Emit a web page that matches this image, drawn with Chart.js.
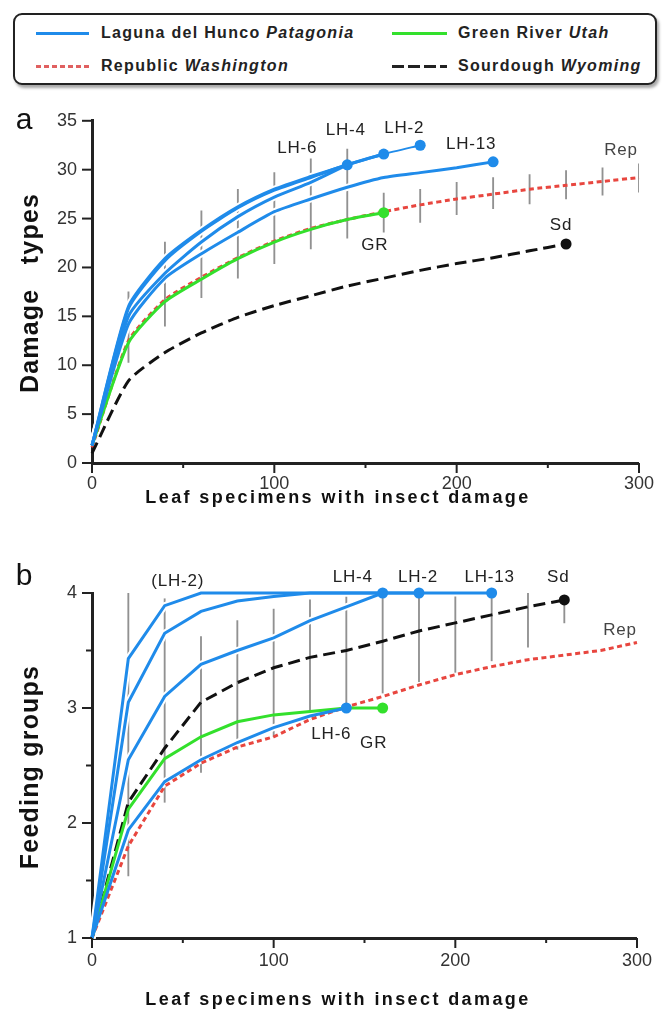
<!DOCTYPE html>
<html><head><meta charset="utf-8">
<script src="https://cdn.jsdelivr.net/npm/chart.js@4.4.1/dist/chart.umd.min.js"></script>
<style>
html,body{margin:0;padding:0;background:#fff;}
body{width:664px;height:1011px;position:relative;overflow:hidden;font-family:"Liberation Sans",Arial,sans-serif;}
#legend{position:absolute;left:13px;top:13px;width:640px;height:68px;border:2px solid #222;border-radius:9px;box-shadow:2px 3px 3px rgba(0,0,0,0.35);background:#fff;}
.item{position:absolute;font-weight:bold;font-size:16px;letter-spacing:1.3px;color:#222;white-space:nowrap;line-height:20px;}
.swatch{position:absolute;height:3px;}
canvas{position:absolute;left:0;}
</style></head><body>
<div id="legend"></div>
<canvas id="ca" width="664" height="435" style="top:95px"></canvas>
<canvas id="cb" width="664" height="451" style="top:560px"></canvas>
<script>
// ---------- data ----------
const xsAll = [0,20,40,60,80,100,120,140,160,180,200,220,240,260,280,300];

// panel a : damage types
const aLH2  = [1.8,16.0,20.9,23.8,26.2,28.0,29.3,30.5,31.6,32.5];
const aLH4  = [1.8,15.8,20.7,23.7,26.1,27.9,29.2,30.5,31.6];
const aLH6  = [1.8,15.0,19.4,22.6,25.2,27.2,28.7,30.5];
const aLH13 = [1.8,14.2,18.9,21.4,23.6,25.7,27.0,28.2,29.2,29.7,30.2,30.8];
const aGR   = [1.8,12.3,16.5,18.8,20.9,22.6,23.9,24.9,25.6];
const aRep  = [1.6,12.5,16.7,19.0,21.0,22.7,24.0,24.9,25.7,26.4,27.0,27.5,28.0,28.4,28.8,29.2];
const aSd   = [1.0,8.4,11.3,13.3,14.9,16.1,17.1,18.1,18.9,19.7,20.4,21.0,21.7,22.4];
const aBarX    = [20,40,60,80,100,120,140,160,180,200,220,240,260,280,300];
const aBarLow  = [10.3,14.0,16.9,18.9,20.4,21.9,23.0,23.6,24.6,25.4,26.0,26.5,27.0,27.4,27.7];
const aBarHigh = [17.5,22.6,25.8,28.0,29.7,31.1,32.1,27.6,28.0,28.7,29.2,29.5,29.9,30.2,30.6];

// panel b : feeding groups
const bLH2  = [1.0,3.43,3.89,4.0,4.0,4.0,4.0,4.0,4.0,4.0];
const bLH13 = [1.0,3.05,3.65,3.84,3.93,3.97,4.0,4.0,4.0,4.0,4.0,4.0];
const bLH4  = [1.0,2.55,3.10,3.38,3.50,3.61,3.76,3.88,4.0];
const bLH6  = [1.0,1.94,2.36,2.55,2.70,2.83,2.93,3.0];
const bGR   = [1.0,2.12,2.56,2.75,2.88,2.94,2.97,3.0,3.0];
const bRep  = [1.0,1.80,2.32,2.52,2.66,2.75,2.90,3.01,3.10,3.20,3.29,3.36,3.42,3.46,3.50,3.57];
const bSd   = [1.0,2.18,2.65,3.05,3.22,3.35,3.44,3.50,3.58,3.67,3.74,3.81,3.88,3.94];
const bBarX    = [20,40,60,80,100,120,140,160,180,200,220,240,260];
const bBarLow  = [1.54,2.18,2.44,2.64,2.75,2.90,3.00,3.13,3.23,3.31,3.41,3.53,3.74];
const bBarHigh = [4.0,3.95,3.62,3.76,3.86,3.94,4.0,4.0,4.0,4.0,4.0,4.0,3.94];

const xTickValues = [0,50,100,150,200,250,300];

// legend
const legendNames = ['Laguna del Hunco ','Green River ','Republic ','Sourdough '];
const legendPlaces = ['Patagonia','Utah','Washington','Wyoming'];

// ---------- styles ----------
const BLUE = '#1f8bea', GREEN = '#33e02c', RED = '#e8463f', BLACK = '#111111', GRAY = '#919191';
const FONT = '"Liberation Sans", Arial, sans-serif';

// legend build
(function(){
  const lg = document.getElementById('legend');
  const sw = [
    {l:21,t:16.5,w:53,bg:BLUE},
    {l:377,t:16.5,w:55,bg:GREEN},
    {l:21,t:49.5,w:53,bg:'repeating-linear-gradient(to right,#e06060 0 5px,transparent 5px 8px)'},
    {l:377,t:49.5,w:55,bg:'repeating-linear-gradient(to right,#222 0 12px,transparent 12px 16px)'}
  ];
  const tx = [{l:86,t:8},{l:443,t:8},{l:86,t:41},{l:443,t:41}];
  for(let i=0;i<4;i++){
    const s=document.createElement('div'); s.className='swatch';
    s.style.left=sw[i].l+'px'; s.style.top=sw[i].t+'px'; s.style.width=sw[i].w+'px'; s.style.background=sw[i].bg;
    lg.appendChild(s);
    const t=document.createElement('div'); t.className='item';
    t.style.left=tx[i].l+'px'; t.style.top=tx[i].t+'px';
    t.appendChild(document.createTextNode(legendNames[i]));
    const it=document.createElement('i'); it.textContent=legendPlaces[i]; t.appendChild(it);
    lg.appendChild(t);
  }
})();

function pts(vals){ return vals.map((v,i)=>({x:xsAll[i], y:v})); }
function lineDS(label, vals, color, order, extra){
  const n = vals.length;
  return Object.assign({
    type:'line', label, data:pts(vals), borderColor:color, backgroundColor:color,
    pointBackgroundColor:color, pointBorderWidth:0,
    borderWidth:3, order, clip:false, fill:false,
    pointRadius: c => c.dataIndex === n-1 ? 5.5 : 0, pointHoverRadius:0
  }, extra||{});
}
// white outline under blue lines (interrupts the grey interval bars, as in the original)
function haloDS(vals, tension){
  return {type:'line', label:'halo', data:pts(vals), borderColor:'#ffffff', borderWidth:7,
    pointRadius:0, order:15, clip:false, fill:false, tension:tension||0};
}
function barDS(xs, lo, hi){
  return {type:'bar', label:'ci', data: xs.map((x,i)=>({x, y:[lo[i], hi[i]]})),
    backgroundColor:GRAY, borderWidth:0, barThickness:1.2, order:20, grouped:false};
}

const deco = {
  id:'deco',
  afterDraw(chart, args, o){
    const ctx = chart.ctx, xs = chart.scales.x, ys = chart.scales.y, ca = chart.chartArea;
    ctx.save();
    ctx.strokeStyle = '#222'; ctx.lineWidth = 2;
    xs.ticks.forEach(t=>{
      const p = xs.getPixelForValue(t.value), len = t.value % 100 === 0 ? 10 : 5;
      ctx.beginPath(); ctx.moveTo(p, ca.bottom); ctx.lineTo(p, ca.bottom+len); ctx.stroke();
    });
    ys.ticks.forEach(t=>{
      const p = ys.getPixelForValue(t.value), len = Number.isInteger(t.value) ? 10 : 6;
      ctx.beginPath(); ctx.moveTo(ca.left, p); ctx.lineTo(ca.left-len, p); ctx.stroke();
    });
    ctx.fillStyle = '#222'; ctx.textAlign='center'; ctx.textBaseline='middle';
    ctx.font = '17px ' + FONT; ctx.letterSpacing = '0.8px';
    o.labels.forEach(L=>{
      ctx.fillStyle = L.color || '#222';
      ctx.fillText(L.text, xs.getPixelForValue(L.x)+L.dx, ys.getPixelForValue(L.y)+L.dy);
    });
    ctx.letterSpacing = '0px';
    ctx.font = '30px ' + FONT; ctx.fillStyle = '#111';
    ctx.fillText(o.letter, 24, ca.top + o.letterDy);
    ctx.font = 'bold 18px ' + FONT; ctx.letterSpacing = '2.4px';
    ctx.fillText(o.xTitle, 338, ca.bottom + o.xTitleDy);
    ctx.save();
    ctx.translate(31, o.yTitleY);
    ctx.rotate(-Math.PI/2);
    ctx.font = 'bold 25px ' + FONT; ctx.letterSpacing = '1.2px';
    ctx.fillText(o.yTitle, 0, 0);
    ctx.restore();
    ctx.restore();
  }
};

function makeChart(id, datasets, yMin, yMax, yStep, padTop, xAxisH, xPad, deco_opts){
  return new Chart(document.getElementById(id), {
    type:'line',
    data:{datasets},
    options:{
      responsive:false, animation:false, events:[],
      layout:{padding:{top:padTop, right:20, bottom:0, left:0}},
      plugins:{legend:{display:false}, tooltip:{enabled:false}, deco:deco_opts},
      elements:{line:{borderCapStyle:'butt'}},
      scales:{
        x:{type:'linear', min:0, max:300, offset:false,
           afterBuildTicks: s => { s.ticks = xTickValues.map(v=>({value:v})); },
           ticks:{autoSkip:false, maxRotation:0, padding:xPad, color:'#333', font:{size:18, family:FONT},
                  callback: v => v % 100 === 0 ? String(v) : ''},
           grid:{drawOnChartArea:false, drawTicks:false},
           border:{display:true, color:'#222', width:3},
           afterFit: s => { s.height = xAxisH; }},
        y:{type:'linear', min:yMin, max:yMax,
           ticks:{stepSize:yStep, autoSkip:false, padding:15, color:'#333', font:{size:18, family:FONT},
                  callback: v => Number.isInteger(v) ? String(v) : ''},
           grid:{drawOnChartArea:false, drawTicks:false},
           border:{display:true, color:'#222', width:3},
           afterFit: s => { s.width = 92; }}
      }
    },
    plugins:[deco]
  });
}

const redDash = {borderDash:[5,3.5]};
const blackDash = {borderDash:[12,6]};

makeChart('ca', [
  barDS(aBarX, aBarLow, aBarHigh),
  haloDS(aLH13, 0.2), haloDS(aLH6, 0.2), haloDS(aLH4, 0.2), haloDS(aLH2, 0.2),
  lineDS('Republic', aRep, RED, 9, Object.assign({pointRadius:0, tension:0.2}, redDash)),
  lineDS('Sourdough', aSd, BLACK, 8, Object.assign({tension:0.2}, blackDash)),
  lineDS('Green River', aGR, GREEN, 7, {tension:0.2}),
  lineDS('LH-13', aLH13, BLUE, 4, {tension:0.2}),
  lineDS('LH-6', aLH6, BLUE, 3, {tension:0.2}),
  lineDS('LH-4', aLH4, BLUE, 2, {tension:0.2}),
  lineDS('LH-2', aLH2, BLUE, 1, {tension:0.2, segment:{borderWidth: c => c.p0DataIndex >= 8 ? 2 : undefined}})
], 0, 35, 5, 23, 67, 10, {
  letter:'a', letterDy:0, xTitle:'Leaf specimens with insect damage', xTitleDy:35,
  yTitle:'Damage   types', yTitleY:198,
  labels:[
    {text:'LH-6', x:140, y:30.5, dx:-50, dy:-16},
    {text:'LH-4', x:160, y:31.6, dx:-38, dy:-24},
    {text:'LH-2', x:180, y:32.5, dx:-16, dy:-17},
    {text:'LH-13', x:220, y:30.8, dx:-22, dy:-18},
    {text:'Rep', x:300, y:29.2, dx:-18, dy:-27, color:'#444'},
    {text:'Sd', x:260, y:22.4, dx:-5, dy:-19},
    {text:'GR', x:160, y:25.6, dx:-9, dy:33}
  ]
});

makeChart('cb', [
  barDS(bBarX, bBarLow, bBarHigh),
  haloDS(bLH6), haloDS(bLH4), haloDS(bLH13), haloDS(bLH2),
  lineDS('Republic', bRep, RED, 9, Object.assign({pointRadius:0}, redDash)),
  lineDS('Sourdough', bSd, BLACK, 8, blackDash),
  lineDS('Green River', bGR, GREEN, 7),
  lineDS('LH-6', bLH6, BLUE, 4),
  lineDS('LH-4', bLH4, BLUE, 3),
  lineDS('LH-13', bLH13, BLUE, 2),
  lineDS('LH-2', bLH2, BLUE, 1)
], 1, 4, 0.5, 33, 73, 12, {
  letter:'b', letterDy:-16, xTitle:'Leaf specimens with insect damage', xTitleDy:62,
  yTitle:'Feeding groups', yTitleY:207,
  labels:[
    {text:'(LH-2)', x:40, y:3.89, dx:13, dy:-24},
    {text:'LH-4', x:160, y:4.0, dx:-30, dy:-16},
    {text:'LH-2', x:180, y:4.0, dx:-1, dy:-16},
    {text:'LH-13', x:220, y:4.0, dx:-2, dy:-16},
    {text:'Sd', x:260, y:3.94, dx:-6, dy:-23},
    {text:'Rep', x:300, y:3.57, dx:-17, dy:-12, color:'#444'},
    {text:'LH-6', x:140, y:3.0, dx:-15, dy:26},
    {text:'GR', x:160, y:3.0, dx:-9, dy:35}
  ]
});
</script>
</body></html>
